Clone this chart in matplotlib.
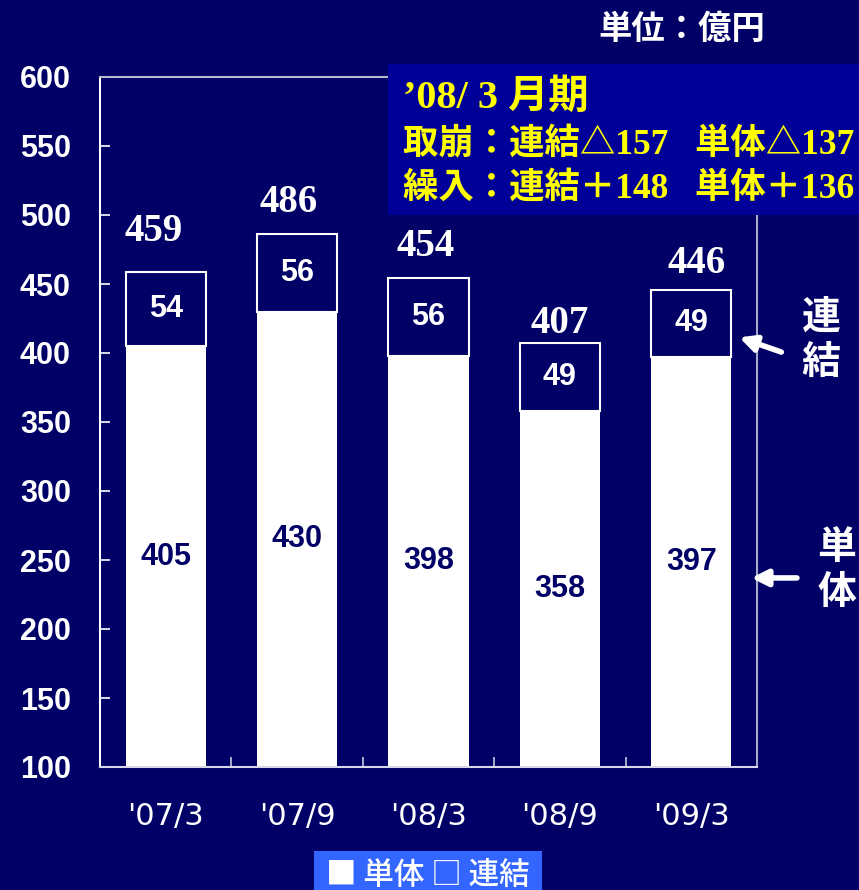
import matplotlib.pyplot as plt
from matplotlib.patches import Rectangle

# 設備投資の推移（単位：億円）
periods = ["'07/3", "'07/9", "'08/3", "'08/9", "'09/3"]
tantai = [405, 430, 398, 358, 397]          # 単体
renketsu_add = [54, 56, 56, 49, 49]         # 連結 - 単体
renketsu = [459, 486, 454, 407, 446]        # 連結 合計
# 合計ラベルの位置ずらし(px)
total_label_dx = [-12, -8, -3, 0, 5]
total_label_dy = [40, 32, 32, 20, 26]

yticks = list(range(100, 601, 50))

NAVY = "#000066"
BOX = "#000099"
YELLOW = "#FFFF00"
CJK = ["Noto Sans CJK JP", "DejaVu Sans"]
SERIF_CJK = ["Liberation Serif", "Noto Sans CJK JP"]

fig = plt.figure(figsize=(8.59, 8.90), dpi=100, facecolor=NAVY)
ax = fig.add_axes([100 / 859, 123 / 890, 657 / 859, 690 / 890])
ax.set_facecolor(NAVY)

x = list(range(len(periods)))
w = 0.61
ax.bar(x, [t - 100 for t in tantai], width=w, bottom=100, color="white", edgecolor="none", zorder=2)
ax.bar(x, renketsu_add, width=w, bottom=tantai, color=NAVY, edgecolor="white", linewidth=1.5, zorder=3)

for i in x:
    # 単体の値（白い部分の中央）
    ax.text(i, (100 + tantai[i]) / 2, str(tantai[i]), ha="center", va="center",
            color=NAVY, fontsize=22, fontweight="bold", family="Liberation Sans", zorder=4)
    # 連結との差分
    ax.text(i, tantai[i] + renketsu_add[i] / 2, str(renketsu_add[i]), ha="center", va="center",
            color="white", fontsize=22, fontweight="bold", family="Liberation Sans", zorder=4)
    # 連結合計
    ax.annotate(str(renketsu[i]), xy=(i, renketsu[i]), xytext=(total_label_dx[i], total_label_dy[i]),
                textcoords="offset pixels", ha="center", va="center", color="white",
                fontsize=28, fontweight="bold", family="Liberation Serif", zorder=4)

ax.set_xlim(-0.5, len(periods) - 0.5)
ax.set_ylim(100, 600)
ax.set_yticks(yticks)
ax.set_xticks(x)
ax.set_xticklabels(periods)
ax.set_xticks([i + 0.5 for i in x[:-1]], minor=True)
ax.tick_params(axis="y", direction="in", length=7.2, width=1.2, color="white", pad=21,
               labelcolor="white", labelsize=22)
ax.tick_params(axis="x", which="major", length=0, pad=25, labelcolor="white", labelsize=22)
ax.tick_params(axis="x", which="minor", direction="in", length=7.2, width=1.2, color="#C8C8DC")
for lab in ax.get_yticklabels():
    lab.set_fontweight("bold")
    lab.set_family("Liberation Sans")
for lab in ax.get_xticklabels():
    lab.set_family("DejaVu Sans")

ax.spines["left"].set_color("white")
ax.spines["bottom"].set_color("#D8D8E8")
ax.spines["top"].set_color("#B8B8D0")
ax.spines["right"].set_color("#A8A8C8")
for s in ax.spines.values():
    s.set_linewidth(1.5)

# 単位
fig.text(765 / 859, 1 - 29 / 890, "単位：億円", ha="right", va="center", color="white",
         fontsize=24, fontweight="bold", family=CJK)

# 注記ボックス
fig.patches.append(Rectangle((388 / 859, 1 - 215 / 890), 471 / 859, 151 / 890,
                             transform=fig.transFigure, facecolor=BOX, edgecolor="none", zorder=5))
fig.text(403 / 859, 1 - 98 / 890, "’08/ 3 月期", ha="left", va="center", color=YELLOW,
         fontsize=29, fontweight="bold", family=SERIF_CJK, zorder=6)
fig.text(403 / 859, 1 - 145 / 890, "取崩：連結△157   単体△137", ha="left", va="center",
         color=YELLOW, fontsize=25.5, fontweight="bold", family=SERIF_CJK, zorder=6)
fig.text(403 / 859, 1 - 189 / 890, "繰入：連結＋148   単体＋136", ha="left", va="center",
         color=YELLOW, fontsize=25.5, fontweight="bold", family=SERIF_CJK, zorder=6)

# 連結・単体 の矢印
ax.annotate("", xy=(4 + w / 2 + 0.04, 412), xytext=(4 + w / 2 + 0.40, 400),
            arrowprops=dict(arrowstyle="-|>", color="white", lw=4, mutation_scale=24),
            annotation_clip=False)
ax.annotate("", xy=(4 + w / 2 + 0.13, 237), xytext=(4 + w / 2 + 0.52, 237),
            arrowprops=dict(arrowstyle="-|>", color="white", lw=4, mutation_scale=24),
            annotation_clip=False)
fig.text(821 / 859, 1 - 340 / 890, "連\n結", ha="center", va="center", color="white",
         fontsize=28, fontweight="bold", family=CJK, linespacing=1.2)
fig.text(837 / 859, 1 - 570 / 890, "単\n体", ha="center", va="center", color="white",
         fontsize=28, fontweight="bold", family=CJK, linespacing=1.2)

# 凡例
fig.patches.append(Rectangle((314 / 859, 0), 228 / 859, 39 / 890, transform=fig.transFigure,
                             facecolor="#3366FF", edgecolor="none", zorder=5))
fig.text(428 / 859, 15 / 890, "■ 単体 □ 連結", ha="center", va="center", color="white",
         fontsize=22, fontweight="medium", family=CJK, zorder=6)

fig.savefig("out.png", dpi=100, facecolor=NAVY)
